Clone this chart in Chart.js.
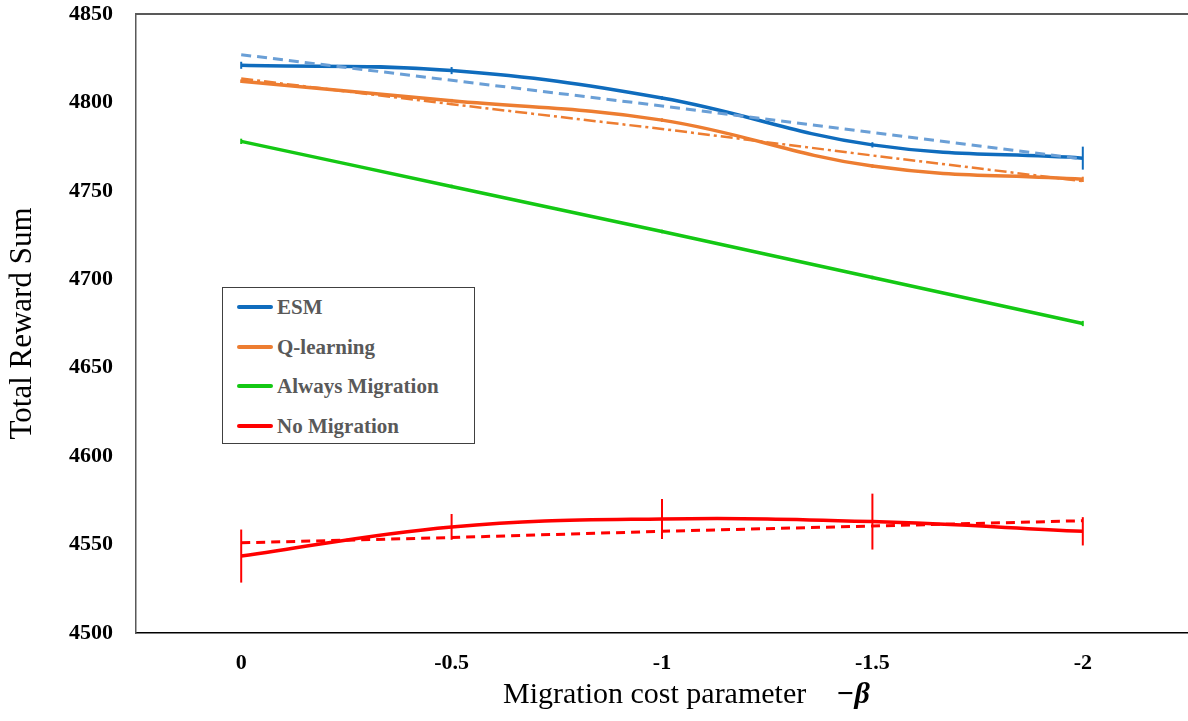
<!DOCTYPE html>
<html>
<head>
<meta charset="utf-8">
<script src="https://cdn.jsdelivr.net/npm/chart.js@4"></script>
<style>
    body { margin: 0; background: #fff; }
    #wrap { position: relative; width: 1188px; height: 721px; overflow: hidden; }
    #legend {
        position: absolute; left: 222px; top: 287px; width: 251px; height: 155px;
        border: 1px solid #404040; background: #fff;
        font: bold 21px "Liberation Serif", "Times New Roman", serif; color: #595959;
    }
    #legend .item { position: absolute; left: 14px; height: 26px; line-height: 26px; white-space: nowrap; }
    #legend .swatch { display: inline-block; width: 36px; height: 4px; border-radius: 2px; vertical-align: middle; margin-right: 4px; position: relative; top: -2px; }
    #xtitle {
        position: absolute; left: 503px; top: 676px; white-space: nowrap;
        font: 30px "Liberation Serif", "Times New Roman", serif; color: #000;
    }
</style>
</head>
<body>
<div id="wrap">
    <canvas id="chart" width="1188" height="721"></canvas>
    <div id="legend"></div>
    <div id="xtitle">Migration cost parameter&nbsp;&nbsp;&nbsp;&nbsp;<b><i>−β</i></b></div>
</div>
<script>
// categories (migration cost parameter -beta)
const categories = ['0', '-0.5', '-1', '-1.5', '-2'];
const yTicks = [4500, 4550, 4600, 4650, 4700, 4750, 4800, 4850];

// series means, error half-widths and trend lines
const esm = [4821, 4818, 4802.5, 4776, 4768.5];
const esmErr = [2, 2, 1, 1.5, 6.5];
const esmTrend = [4827, 4812.5, 4798, 4783, 4768];

const qLearning = [4812, 4801, 4790, 4764, 4756.5];
const qErr = [1, 1, 1, 1, 1.5];
const qTrend = [4813.5, 4799, 4785, 4770, 4755.5];

const alwaysMig = [4778, 4752.5, 4727, 4701, 4675];
const alwaysErr = [1.5, 1, 1, 1, 1.5];

const noMig = [4543.5, 4560, 4564.5, 4563, 4557.5];
const noMigErr = [15, 7.3, 11.3, 15.8, 8];
const noMigTrend = [4551, 4554, 4557.5, 4560.5, 4563.5];

const BLUE = '#0f6cbd', LIGHTBLUE = '#6a9fd6', ORANGE = '#ed7d31', GREEN = '#14c814', RED = '#ff0000';

// vertical error bars drawn through the chart scales
const errorBars = {
    id: 'errorBars',
    afterDatasetsDraw(chart) {
        const ctx = chart.ctx, x = chart.scales.x, y = chart.scales.y;
        chart.data.datasets.forEach(ds => {
            if (!ds.errors) return;
            ctx.save();
            ctx.strokeStyle = ds.borderColor;
            ctx.lineWidth = 2;
            ds.data.forEach((v, i) => {
                const px = x.getPixelForValue(i);
                ctx.beginPath();
                ctx.moveTo(px, y.getPixelForValue(v - ds.errors[i]));
                ctx.lineTo(px, y.getPixelForValue(v + ds.errors[i]));
                ctx.stroke();
            });
            ctx.restore();
        });
    }
};

// top frame line
const frame = {
    id: 'frame',
    beforeDatasetsDraw(chart) {
        const {ctx, chartArea} = chart;
        ctx.save();
        ctx.strokeStyle = '#595959';
        ctx.lineWidth = 2;
        ctx.beginPath();
        ctx.moveTo(chartArea.left, chartArea.top);
        ctx.lineTo(chartArea.right, chartArea.top);
        ctx.stroke();
        ctx.restore();
    }
};

const ctx = document.getElementById('chart').getContext('2d');
const chart = new Chart(ctx, {
    type: 'line',
    data: {
        labels: categories,
        datasets: [
            { label: 'ESM trend', data: esmTrend, borderColor: LIGHTBLUE, borderWidth: 3, borderDash: [10, 6], tension: 0, legend: false },
            { label: 'Q-learning trend', data: qTrend, borderColor: ORANGE, borderWidth: 2.5, borderDash: [12, 4, 3, 4], tension: 0, legend: false },
            { label: 'No Migration trend', data: noMigTrend, borderColor: RED, borderWidth: 3, borderDash: [9, 6], tension: 0, legend: false },
            { label: 'ESM', data: esm, errors: esmErr, borderColor: BLUE, borderWidth: 3.5, tension: 0.4 },
            { label: 'Q-learning', data: qLearning, errors: qErr, borderColor: ORANGE, borderWidth: 3.5, tension: 0.4 },
            { label: 'Always Migration', data: alwaysMig, errors: alwaysErr, borderColor: GREEN, borderWidth: 3.5, tension: 0.4 },
            { label: 'No Migration', data: noMig, errors: noMigErr, borderColor: RED, borderWidth: 3.5, tension: 0.4 }
        ]
    },
    options: {
        responsive: false,
        animation: false,
        devicePixelRatio: 1,
        layout: { padding: { top: 14, left: 0, right: 0, bottom: 0 } },
        elements: { point: { radius: 0 }, line: { borderCapStyle: 'butt' } },
        plugins: { legend: { display: false }, tooltip: { enabled: false } },
        scales: {
            x: {
                offset: true,
                grid: { display: false, drawTicks: false },
                border: { color: '#000', width: 1.5 },
                ticks: { color: '#000', padding: 17, font: { family: '"Liberation Serif", serif', size: 22, weight: 'bold' } },
                afterFit: s => { s.height = 88; s.paddingLeft = 0; s.paddingRight = 0; }
            },
            y: {
                min: 4500,
                max: 4850,
                afterBuildTicks: s => { s.ticks = yTicks.map(v => ({ value: v })); },
                grid: { display: false, drawTicks: false },
                border: { color: '#595959', width: 1.5 },
                ticks: {
                    color: '#000',
                    padding: 23,
                    font: { family: '"Liberation Serif", serif', size: 22, weight: 'bold' },
                    callback: v => String(v)
                },
                title: {
                    display: true,
                    text: 'Total Reward Sum',
                    color: '#000',
                    padding: { top: 4, bottom: 0 },
                    font: { family: '"Liberation Serif", serif', size: 31 }
                },
                afterFit: s => { s.width = 136; s.paddingTop = 0; s.paddingBottom = 0; }
            }
        }
    },
    plugins: [errorBars, frame]
});

// legend box inside the plot, built from the datasets
const legendEl = document.getElementById('legend');
chart.data.datasets.filter(ds => ds.legend !== false).forEach((ds, i) => {
    const item = document.createElement('div');
    item.className = 'item';
    item.style.top = (6 + i * 39.5) + 'px';
    item.innerHTML = '<span class="swatch" style="background:' + ds.borderColor + '"></span>' + ds.label;
    legendEl.appendChild(item);
});
</script>
</body>
</html>
